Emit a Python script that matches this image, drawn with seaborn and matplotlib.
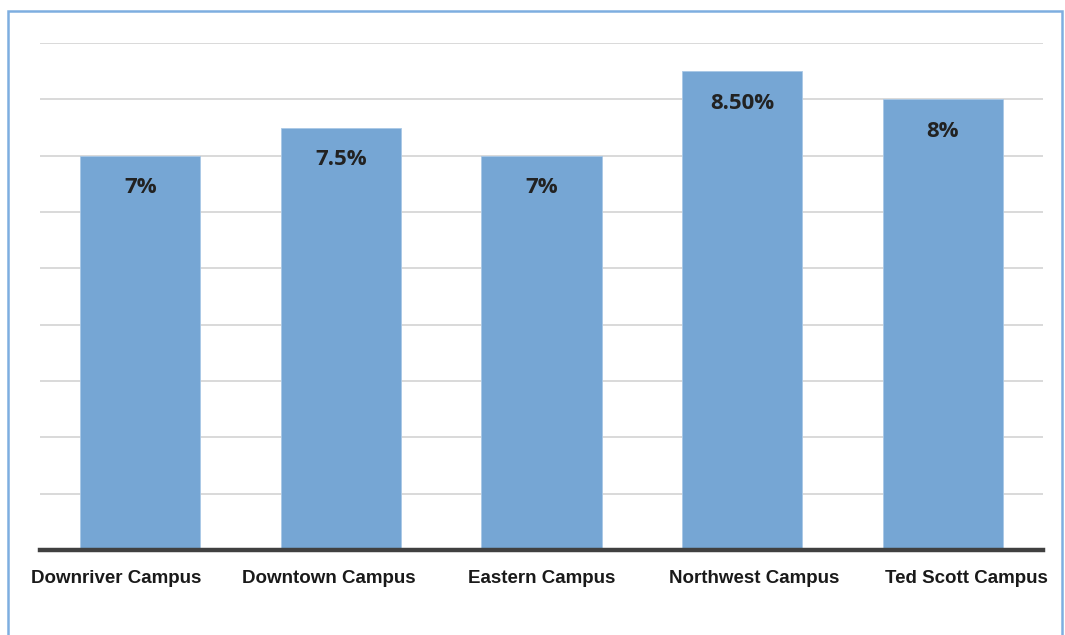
import matplotlib

matplotlib.use("Agg")
import matplotlib.pyplot as plt
import matplotlib.transforms as mtransforms
import pandas as pd
import seaborn as sns
from matplotlib.patches import Rectangle

CAMPUSES = ["Downriver Campus", "Downtown Campus", "Eastern Campus",
            "Northwest Campus", "Ted Scott Campus"]
RATES = [7, 7.5, 7, 8.5, 8]
LABELS = ["7%", "7.5%", "7%", "8.50%", "8%"]

BAR_COLOR = "#76A6D4"
GRID_COLOR = "#D9D9D9"

df = pd.DataFrame({"campus": CAMPUSES, "rate": RATES})

sns.set_style("white")
plt.rcParams["font.family"] = ["Liberation Sans", "DejaVu Sans"]

fig = plt.figure(figsize=(10.65, 6.35), dpi=100)
ax = fig.add_axes([40 / 1065, 85 / 635, 1003 / 1065, 507 / 635])

sns.barplot(data=df, x="campus", y="rate", color=BAR_COLOR, width=0.6,
            saturation=1, ax=ax, zorder=3, edgecolor="#A9C8E6", linewidth=0.6)

ax.set_xlim(-0.5, 4.5)
ax.set_ylim(0, 9)
ax.set_yticks(range(1, 10))
ax.yaxis.grid(True, color=GRID_COLOR, linewidth=1.4, zorder=0)
ax.set_axisbelow(True)
ax.tick_params(axis="y", left=False, labelleft=False)
ax.tick_params(axis="x", bottom=False, pad=11)
ax.set_xlabel("")
ax.set_ylabel("")

# category labels in the original sit slightly spread out from the bar centres
for i, lbl in enumerate(ax.get_xticklabels()):
    lbl.set_fontweight("bold")
    lbl.set_fontsize(13.5)
    lbl.set_color("#1a1a1a")
    shift = mtransforms.ScaledTranslation((i - 2) * 0.12, 0, fig.dpi_scale_trans)
    lbl.set_transform(lbl.get_transform() + shift)

for side in ["top", "right", "left"]:
    ax.spines[side].set_visible(False)
ax.spines["bottom"].set_color("#404040")
ax.spines["bottom"].set_linewidth(3.2)
ax.spines["bottom"].set_zorder(5)

for i, (v, txt) in enumerate(zip(RATES, LABELS)):
    ax.annotate(txt, xy=(i, v), xytext=(0, -23), textcoords="offset points",
                ha="center", va="center", fontsize=16, fontweight="bold",
                family=["Open Sans", "DejaVu Sans"], color="#222222", zorder=6)

fig.patches.append(Rectangle((8 / 1065, -0.1), 1054 / 1065, 1.1 - 11 / 635,
                             transform=fig.transFigure, fill=False,
                             edgecolor="#7EAEE0", linewidth=1.8))

fig.savefig("out.png", dpi=100)
